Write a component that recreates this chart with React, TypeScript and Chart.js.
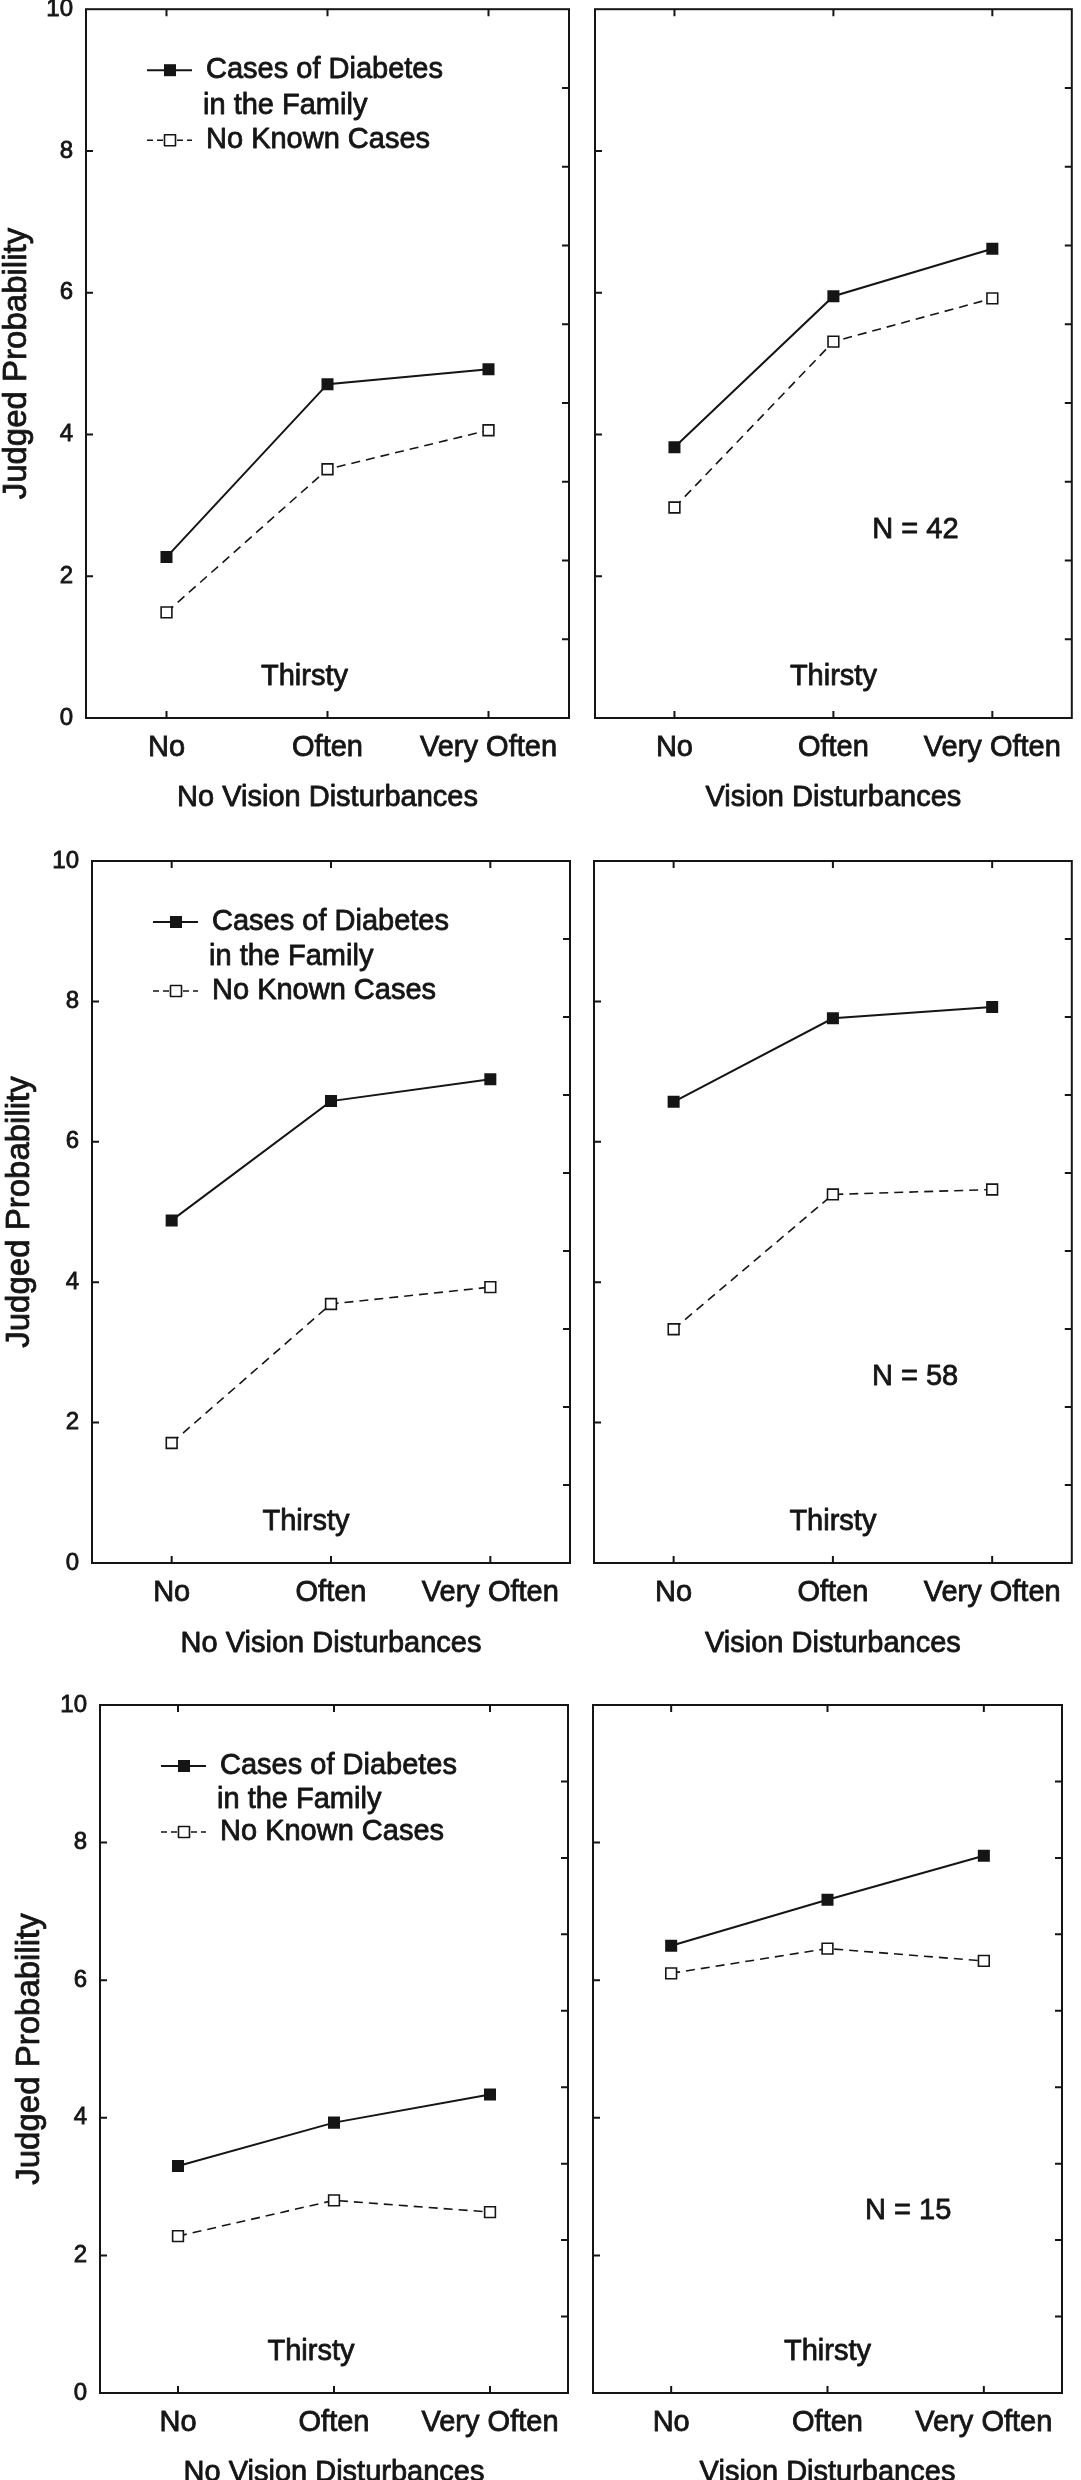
import React, { useEffect, useRef } from 'react';
import { Chart, registerables } from 'chart.js';

Chart.register(...registerables);

// ---------- data ----------
const categories = ['No', 'Often', 'Very Often'];
const yTickValues = [0, 2, 4, 6, 8, 10];
const yTitle = 'Judged Probability';
const xTitles = ['No Vision Disturbances', 'Vision Disturbances'];
const legendLabels = ['Cases of Diabetes', 'in the Family', 'No Known Cases'];
const panelNote = 'Thirsty';
const sampleSizes = ['N = 42', 'N = 58', 'N = 15'];

// row 1 (N = 42)
const familyNoVisionA = [2.27, 4.71, 4.92];
const noneNoVisionA = [1.49, 3.51, 4.06];
const familyVisionA = [3.82, 5.95, 6.62];
const noneVisionA = [2.97, 5.31, 5.92];
// row 2 (N = 58)
const familyNoVisionB = [4.88, 6.58, 6.89];
const noneNoVisionB = [1.71, 3.69, 3.93];
const familyVisionB = [6.57, 7.76, 7.92];
const noneVisionB = [3.33, 5.25, 5.32];
// row 3 (N = 15)
const familyNoVisionC = [3.3, 3.93, 4.34];
const noneNoVisionC = [2.28, 2.8, 2.63];
const familyVisionC = [6.5, 7.17, 7.81];
const noneVisionC = [6.1, 6.46, 6.28];

// ---------- layout ----------
const FONT = '"Liberation Sans", Arial, Helvetica, sans-serif';
const INK = '#151515';
const STROKE = 0.8;

type Layout = {
  x: number; y: number; w: number; h: number;
  l: number; r: number; t: number; b: number;
  left: boolean;
  yTitleCenter: number;
  xTitleCenter: number;
  legendRows: number[];
  noteDx: number;
};

const layouts: Layout[] = [
  { x: 0, y: 0, w: 580, h: 830, l: 86, r: 569, t: 8, b: 718, left: true, yTitleCenter: 17, xTitleCenter: 798, legendRows: [61, 97, 131], noteDx: -23 },
  { x: 580, y: 0, w: 501, h: 830, l: 595, r: 1076, t: 8, b: 718, left: false, yTitleCenter: 0, xTitleCenter: 798, legendRows: [], noteDx: 0 },
  { x: 0, y: 830, w: 580, h: 850, l: 92, r: 570, t: 861, b: 1563, left: true, yTitleCenter: 20, xTitleCenter: 1644, legendRows: [61, 96, 130], noteDx: -25 },
  { x: 580, y: 830, w: 501, h: 850, l: 594, r: 1072, t: 861, b: 1563, left: false, yTitleCenter: 0, xTitleCenter: 1644, legendRows: [], noteDx: 0 },
  { x: 0, y: 1680, w: 580, h: 800, l: 100, r: 568, t: 1705, b: 2393, left: true, yTitleCenter: 30, xTitleCenter: 2473, legendRows: [61, 95, 127], noteDx: -23 },
  { x: 580, y: 1680, w: 501, h: 800, l: 593, r: 1062, t: 1705, b: 2393, left: false, yTitleCenter: 0, xTitleCenter: 2473, legendRows: [], noteDx: 0 },
];

const panelData = [
  { family: familyNoVisionA, none: noneNoVisionA, xTitle: xTitles[0], n: null as string | null },
  { family: familyVisionA, none: noneVisionA, xTitle: xTitles[1], n: sampleSizes[0] },
  { family: familyNoVisionB, none: noneNoVisionB, xTitle: xTitles[0], n: null },
  { family: familyVisionB, none: noneVisionB, xTitle: xTitles[1], n: sampleSizes[1] },
  { family: familyNoVisionC, none: noneNoVisionC, xTitle: xTitles[0], n: null },
  { family: familyVisionC, none: noneVisionC, xTitle: xTitles[1], n: sampleSizes[2] },
];

function heavyText(ctx: CanvasRenderingContext2D, text: string, x: number, y: number) {
  ctx.fillText(text, x, y);
  ctx.strokeText(text, x, y);
}

const framePlugin = {
  id: 'frame',
  afterDraw(chart: any, _args: any, opts: any) {
    const { ctx, chartArea } = chart;
    const { left, right, top, bottom } = chartArea;
    const xs = chart.scales.x;
    const ys = chart.scales.y;
    const tick = 7;
    ctx.save();
    ctx.strokeStyle = INK;
    ctx.lineWidth = 2;
    ctx.setLineDash([]);
    ctx.strokeRect(left, top, right - left, bottom - top);
    ctx.beginPath();
    yTickValues.slice(1, -1).forEach((v) => {
      const py = ys.getPixelForValue(v);
      ctx.moveTo(left, py);
      ctx.lineTo(left + tick, py);
    });
    for (let k = 1; k < 9; k++) {
      const py = ys.getPixelForValue((10 * k) / 9);
      ctx.moveTo(right, py);
      ctx.lineTo(right - tick, py);
    }
    categories.forEach((_c, i) => {
      const px = xs.getPixelForValue(i);
      ctx.moveTo(px, top);
      ctx.lineTo(px, top + tick);
      ctx.moveTo(px, bottom);
      ctx.lineTo(px, bottom - tick);
    });
    ctx.stroke();

    // text
    ctx.fillStyle = INK;
    ctx.lineWidth = STROKE;
    ctx.lineJoin = 'round';
    ctx.font = `29px ${FONT}`;
    ctx.textBaseline = 'middle';
    ctx.textAlign = 'center';
    heavyText(ctx, panelNote, xs.getPixelForValue(1) + opts.noteDx, bottom - 41);
    if (opts.n) {
      heavyText(ctx, opts.n, left + 0.672 * (right - left), top + 0.735 * (bottom - top));
    }
    // x axis title
    heavyText(ctx, opts.xTitle, (left + right) / 2, opts.xTitleY);
    // y axis title
    if (opts.yTitleX) {
      ctx.save();
      ctx.font = `33px ${FONT}`;
      ctx.translate(opts.yTitleX, (top + bottom) / 2);
      ctx.rotate(-Math.PI / 2);
      heavyText(ctx, yTitle, 0, 0);
      ctx.restore();
    }

    // legend
    if (opts.legendRows && opts.legendRows.length) {
      const [r1, r2, r3] = opts.legendRows.map((d: number) => top + d);
      const x0 = left + 61;
      const x1 = left + 106;
      const mx = left + 84;
      const tx = left + 120;
      ctx.lineWidth = 2;
      ctx.beginPath();
      ctx.moveTo(x0, r1);
      ctx.lineTo(x1, r1);
      ctx.stroke();
      ctx.fillRect(mx - 6, r1 - 6, 12, 12);
      ctx.lineWidth = 1.6;
      ctx.setLineDash([6, 4]);
      ctx.beginPath();
      ctx.moveTo(x0, r3);
      ctx.lineTo(x1, r3);
      ctx.stroke();
      ctx.setLineDash([]);
      ctx.fillStyle = '#ffffff';
      ctx.fillRect(mx - 5.5, r3 - 5.5, 11, 11);
      ctx.strokeRect(mx - 5.5, r3 - 5.5, 11, 11);
      ctx.fillStyle = INK;
      ctx.lineWidth = STROKE;
      ctx.textAlign = 'left';
      heavyText(ctx, legendLabels[0], tx, r1);
      heavyText(ctx, legendLabels[1], tx - 3, r2);
      heavyText(ctx, legendLabels[2], tx, r3);
    }
    ctx.restore();
  },
};

function Panel({ idx }: { idx: number }) {
  const ref = useRef<HTMLCanvasElement>(null);
  const L = layouts[idx];
  const D = panelData[idx];
  useEffect(() => {
    const canvas = ref.current!;
    const chart = new Chart(canvas, {
      type: 'line',
      data: {
        labels: categories,
        datasets: [
          {
            label: legendLabels[0] + ' ' + legendLabels[1],
            data: D.family,
            borderColor: INK,
            borderWidth: 2,
            pointStyle: 'rect',
            pointRadius: 8.5,
            pointBackgroundColor: INK,
            pointBorderColor: INK,
            pointBorderWidth: 0,
            tension: 0,
          },
          {
            label: legendLabels[2],
            data: D.none,
            borderColor: INK,
            borderWidth: 1.6,
            borderDash: [9, 6],
            pointStyle: 'rect',
            pointRadius: 7.6,
            pointBackgroundColor: '#ffffff',
            pointBorderColor: INK,
            pointBorderWidth: 1.6,
            tension: 0,
          },
        ],
      },
      options: {
        animation: false,
        responsive: false,
        maintainAspectRatio: false,
        devicePixelRatio: 1,
        layout: {
          padding: { left: 0, top: L.t - L.y, right: L.x + L.w - L.r, bottom: 0 },
        },
        plugins: {
          legend: { display: false },
          tooltip: { enabled: false },
          frame: {
            legendRows: L.legendRows,
            noteDx: L.noteDx,
            n: D.n,
            xTitle: D.xTitle,
            xTitleY: L.xTitleCenter - L.y,
            yTitleX: L.left ? L.yTitleCenter - L.x : 0,
          },
        } as any,
        scales: {
          x: {
            type: 'category',
            offset: true,
            grid: { display: false, drawTicks: false },
            border: { display: false },
            ticks: {
              color: INK,
              font: { family: FONT, size: 29 },
              padding: 13,
              maxRotation: 0,
              autoSkip: false,
              textStrokeColor: INK,
              textStrokeWidth: STROKE,
            },
            title: { display: false },
            afterFit: (s: any) => {
              s.height = L.y + L.h - L.b;
              s.paddingLeft = 0;
              s.paddingRight = 0;
            },
          },
          y: {
            min: 0,
            max: 10,
            afterBuildTicks: (s: any) => {
              s.ticks = yTickValues.map((v) => ({ value: v }));
            },
            grid: { display: false, drawTicks: false },
            border: { display: false },
            ticks: {
              display: L.left,
              color: INK,
              font: { family: FONT, size: 24 },
              padding: 13,
              textStrokeColor: INK,
              textStrokeWidth: STROKE,
            },
            title: { display: false },
            afterFit: (s: any) => {
              s.width = L.l - L.x;
              s.paddingTop = 0;
              s.paddingBottom = 0;
            },
          },
        },
      } as any,
      plugins: [framePlugin],
    });
    return () => chart.destroy();
  }, []);
  return (
    <canvas
      ref={ref}
      width={L.w}
      height={L.h}
      style={{ position: 'absolute', left: L.x, top: L.y, width: L.w, height: L.h, display: 'block' }}
    />
  );
}

export default function App() {
  return (
    <div style={{ position: 'absolute', left: 0, top: 0, width: 1081, height: 2480, background: '#ffffff', overflow: 'hidden' }}>
      {layouts.map((_l, i) => (
        <Panel key={i} idx={i} />
      ))}
    </div>
  );
}
